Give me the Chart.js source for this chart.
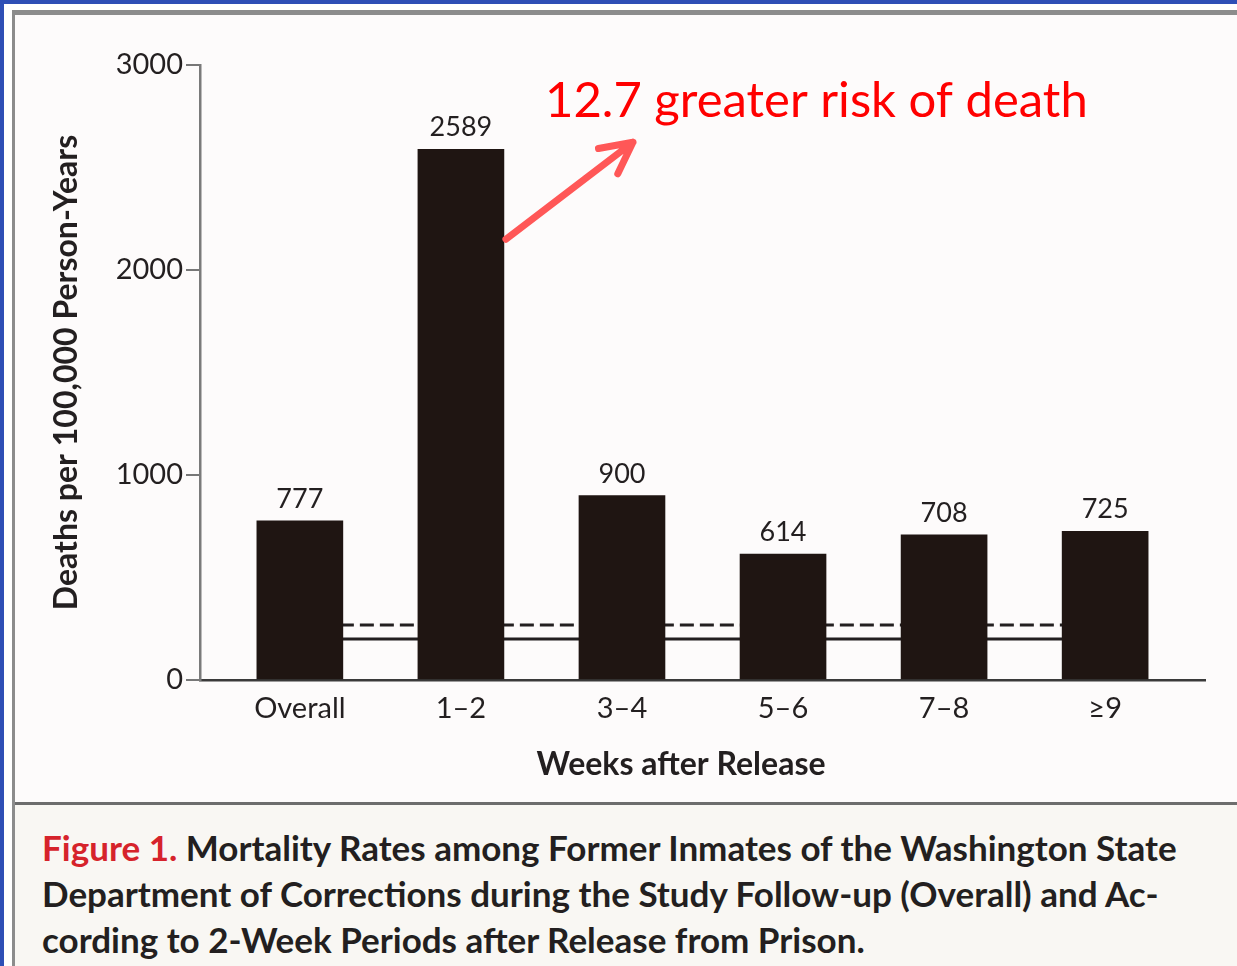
<!DOCTYPE html>
<html>
<head>
<meta charset="utf-8">
<title>Mortality Rates among Former Inmates</title>
<script src="https://cdn.jsdelivr.net/npm/chart.js@4.4.0/dist/chart.umd.min.js"></script>
<style>
  html, body { margin: 0; padding: 0; }
  body {
    width: 1237px; height: 966px; overflow: hidden;
    position: relative; background: #fff;
    font-family: Lato, "Open Sans", sans-serif;
  }
  .blue-top { position: absolute; left: 0; top: 0; width: 1237px; height: 4px; background: #2e4fb6; }
  .blue-left { position: absolute; left: 0; top: 0; width: 4px; height: 966px; background: #2e4fb6; }
  .frame {
    position: absolute; left: 12px; top: 10px; right: 0; bottom: 0;
    border-top: 5px solid #8c8c8c; border-left: 3px solid #8c8c8c;
    background: #fdfbfb;
  }
  #chart { position: absolute; left: 0; top: 0; }
  .caption {
    position: absolute; left: 15px; top: 802px; right: 0; bottom: 0;
    border-top: 3px solid #6d6d6d; background: #f9f7f3;
  }
  .caption p {
    margin: 0; position: absolute; left: 27px; top: 19px;
    font-weight: 700; font-size: 35px; line-height: 46px;
    color: #231f20; white-space: nowrap;
  }
  .caption .fig { color: #d6232b; }
</style>
</head>
<body>
<div class="blue-top"></div>
<div class="blue-left"></div>
<div class="frame"></div>
<canvas id="chart" width="1237" height="802"></canvas>
<div class="caption">
  <p><span class="fig">Figure 1.</span> Mortality Rates among Former Inmates of the Washington State<br>Department of Corrections during the Study Follow-up (Overall) and Ac-<br>cording to 2-Week Periods after Release from Prison.</p>
</div>

<script>
// Chart data
const categories = ['Overall', '1\u20132', '3\u20134', '5\u20136', '7\u20138', '\u22659'];
const deathRates = [777, 2589, 900, 614, 708, 725];
const yTicks = [0, 1000, 2000, 3000];

// horizontal reference rates drawn behind the bars
const refLineX = [0, 5];
const solidRefLine = [200, 200];
const dashedRefLine = [268, 268];

const textColor = '#231f20';
const barColor = '#1f1512';
const barWidth = 86;

// value labels, x axis title, red note with arrow
const labelsPlugin = {
    id: 'extraLabels',
    afterDatasetsDraw(chart) {
        const ctx = chart.ctx;
        const meta = chart.getDatasetMeta(0);
        ctx.save();
        ctx.fillStyle = textColor;
        ctx.font = '27px Lato';
        ctx.textAlign = 'center';
        ctx.textBaseline = 'alphabetic';
        meta.data.forEach((bar, i) => {
            ctx.fillText(String(deathRates[i]), bar.x, bar.y - 13);
        });
        ctx.restore();
    },
    afterDraw(chart) {
        const ctx = chart.ctx;
        const xs = chart.scales.x;
        const ys = chart.scales.y;

        ctx.save();
        ctx.fillStyle = textColor;
        ctx.font = 'bold 32px Lato';
        ctx.textAlign = 'center';
        ctx.textBaseline = 'alphabetic';
        ctx.fillText('Weeks after Release', 681, 775);

        // arrow from the 1-2 bar up to the note
        const x0 = xs.getPixelForValue(1) + barWidth / 2 + 2;
        const y0 = ys.getPixelForValue(2150);
        const x1 = x0 + 127;
        const y1 = y0 - 97;
        ctx.strokeStyle = '#ff5757';
        ctx.lineWidth = 7;
        ctx.lineCap = 'round';
        ctx.lineJoin = 'round';
        ctx.beginPath();
        ctx.moveTo(x0, y0);
        ctx.lineTo(x1, y1);
        const back = Math.atan2(y0 - y1, x0 - x1);
        const spread = 27 * Math.PI / 180;
        ctx.moveTo(x1 + 35 * Math.cos(back - spread), y1 + 35 * Math.sin(back - spread));
        ctx.lineTo(x1, y1);
        ctx.lineTo(x1 + 35 * Math.cos(back + spread), y1 + 35 * Math.sin(back + spread));
        ctx.stroke();

        ctx.fillStyle = '#ff0000';
        ctx.font = '49px Lato';
        ctx.textAlign = 'left';
        ctx.fillText('12.7 greater risk of death', 545, 117);
        ctx.restore();
    }
};

const ctx = document.getElementById('chart').getContext('2d');

new Chart(ctx, {
    type: 'bar',
    data: {
        datasets: [
            {
                type: 'bar',
                label: 'Deaths per 100,000 person-years',
                data: deathRates.map((v, i) => ({ x: i, y: v })),
                backgroundColor: barColor,
                borderWidth: 0,
                barThickness: barWidth,
                order: 0
            },
            {
                type: 'line',
                label: 'Reference (solid)',
                data: refLineX.map((x, i) => ({ x: x, y: solidRefLine[i] })),
                borderColor: textColor,
                borderWidth: 3,
                pointRadius: 0,
                fill: false,
                order: 1
            },
            {
                type: 'line',
                label: 'Reference (dashed)',
                data: refLineX.map((x, i) => ({ x: x, y: dashedRefLine[i] })),
                borderColor: textColor,
                borderWidth: 3,
                borderDash: [14, 6],
                pointRadius: 0,
                fill: false,
                order: 1
            }
        ]
    },
    options: {
        responsive: false,
        animation: false,
        devicePixelRatio: 1,
        layout: { padding: { top: 65, right: 32, bottom: 0, left: 0 } },
        plugins: {
            legend: { display: false },
            tooltip: { enabled: false }
        },
        scales: {
            x: {
                type: 'linear',
                position: 'bottom',
                offset: false,
                min: -0.62,
                max: 5.62,
                afterBuildTicks: (scale) => {
                    scale.ticks = categories.map((c, i) => ({ value: i }));
                },
                afterFit: (scale) => { scale.height = 122; },
                ticks: {
                    callback: (v) => categories[v],
                    color: textColor,
                    font: { family: 'Lato', size: 29 },
                    padding: 11,
                    maxRotation: 0,
                    autoSkip: false
                },
                grid: { display: false, drawTicks: false, offset: false },
                border: { display: true, color: '#3a3a3a', width: 2.5 }
            },
            y: {
                position: 'left',
                min: 0,
                max: 3000,
                afterBuildTicks: (scale) => {
                    scale.ticks = yTicks.map(v => ({ value: v }));
                },
                afterFit: (scale) => { scale.width = 200; },
                ticks: {
                    callback: (v) => String(v),
                    color: textColor,
                    font: { family: 'Lato', size: 29 },
                    padding: 3
                },
                grid: {
                    drawOnChartArea: false,
                    drawTicks: true,
                    tickLength: 14,
                    color: '#777',
                    lineWidth: 2
                },
                border: { display: true, color: '#7a7a7a', width: 2.5 },
                title: {
                    display: true,
                    text: 'Deaths per 100,000 Person-Years',
                    color: textColor,
                    font: { family: 'Lato', size: 32, weight: 'bold' },
                    padding: { top: 47, bottom: 0 }
                }
            }
        }
    },
    plugins: [labelsPlugin]
});
</script>
</body>
</html>
